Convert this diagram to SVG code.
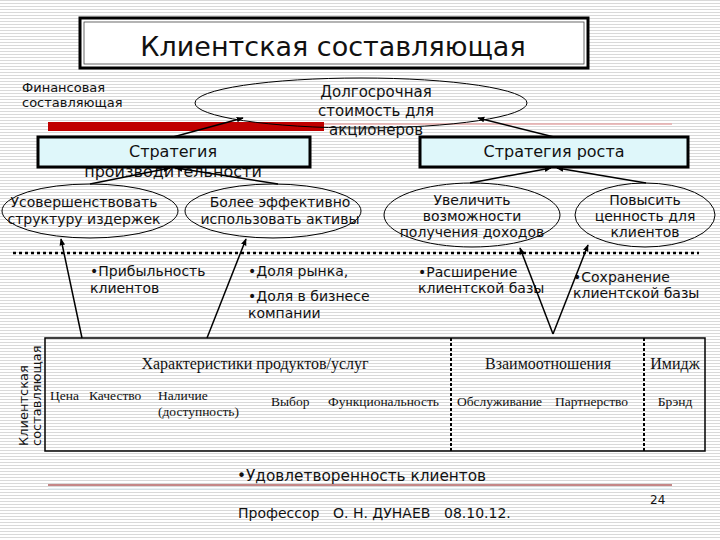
<svg xmlns="http://www.w3.org/2000/svg" width="720" height="540" viewBox="0 0 720 540">
<defs>
<pattern id="stripes" width="4" height="3" patternUnits="userSpaceOnUse">
<rect width="4" height="3" fill="#ffffff"/>
<rect width="4" height="1" fill="#d9d9d9"/>
</pattern>
<marker id="arr" viewBox="0 0 10 10" refX="9" refY="5" markerWidth="7" markerHeight="7" orient="auto" markerUnits="userSpaceOnUse">
<path d="M0,1 L10,5 L0,9 z" fill="#000"/>
</marker>
<style>
.sans{font-family:"DejaVu Sans","Noto Sans",sans-serif;fill:#111}
.serif{font-family:"Liberation Serif","DejaVu Serif",serif;fill:#111}
.oval{fill:none;stroke:#000;stroke-width:1}
.sbox{fill:#dff7fa;stroke:#000;stroke-width:3}
.conn line{stroke:#000;stroke-width:1.5;marker-end:url(#arr)}
</style>
</defs>
<rect width="720" height="540" fill="url(#stripes)"/>

<g id="title">
<rect x="80" y="18" width="508" height="50" fill="#fff" stroke="#000" stroke-width="3"/>
<rect x="84" y="22" width="500" height="42" fill="none" stroke="#444" stroke-width="0.8"/>
<text class="sans" x="333" y="56" font-size="27" text-anchor="middle">Клиентская составляющая</text>
</g>

<g id="fin-label">
<text class="sans" x="22" y="92" font-size="13">Финансовая</text>
<text class="sans" x="22" y="107" font-size="13">составляющая</text>
</g>

<g id="redbar">
<rect x="48" y="122" width="276" height="9" fill="#c00000"/>
<line x1="324" y1="124" x2="672" y2="124" stroke="#e4a8a8" stroke-width="1.5"/>
</g>

<g id="value">
<ellipse class="oval" cx="361" cy="103" rx="166" ry="25"/>
<text class="sans" font-size="15" text-anchor="middle"><tspan x="376" y="97">Долгосрочная</tspan><tspan x="376" y="116">стоимость для</tspan><tspan x="376" y="135">акционеров</tspan></text>
</g>

<g id="strat-prod">
<rect class="sbox" x="38" y="137" width="272" height="30"/>
<text class="sans" font-size="16" text-anchor="middle"><tspan x="173" y="157">Стратегия</tspan><tspan x="173" y="177">производительности</tspan></text>
</g>

<g id="strat-growth">
<rect class="sbox" x="420" y="137" width="268" height="30"/>
<text class="sans" x="554" y="157" font-size="16" text-anchor="middle">Стратегия роста</text>
</g>

<g id="costs">
<ellipse class="oval" cx="90" cy="211" rx="88" ry="27"/>
<text class="sans" font-size="14" text-anchor="middle"><tspan x="84" y="207">Усовершенствовать</tspan><tspan x="84" y="224">структуру издержек</tspan></text>
</g>

<g id="assets">
<ellipse class="oval" cx="273" cy="211" rx="88" ry="27"/>
<text class="sans" font-size="14" text-anchor="middle"><tspan x="280" y="207">Более эффективно</tspan><tspan x="280" y="224">использовать активы</tspan></text>
</g>

<g id="revenue">
<ellipse class="oval" cx="472" cy="215" rx="88" ry="32"/>
<text class="sans" font-size="14" text-anchor="middle"><tspan x="472" y="205">Увеличить</tspan><tspan x="472" y="221">возможности</tspan><tspan x="472" y="237">получения доходов</tspan></text>
</g>

<g id="clientvalue">
<ellipse class="oval" cx="645" cy="215" rx="70" ry="32"/>
<text class="sans" font-size="14" text-anchor="middle"><tspan x="645" y="205">Повысить</tspan><tspan x="645" y="221">ценность для</tspan><tspan x="645" y="237">клиентов</tspan></text>
</g>

<g id="divider">
<line x1="13" y1="253" x2="699" y2="253" stroke="#000" stroke-width="2.5" stroke-dasharray="3 3"/>
</g>

<g id="metrics">
<text class="sans" font-size="14"><tspan x="90" y="276">•Прибыльность</tspan><tspan x="90" y="293">клиентов</tspan></text>
<text class="sans" font-size="14"><tspan x="248" y="276">•Доля рынка,</tspan></text>
<text class="sans" font-size="14"><tspan x="248" y="301">•Доля в бизнесе</tspan><tspan x="248" y="318">компании</tspan></text>
<text class="sans" font-size="14"><tspan x="418" y="277">•Расширение</tspan><tspan x="418" y="293">клиентской базы</tspan></text>
<text class="sans" font-size="14"><tspan x="573" y="282">•Сохранение</tspan><tspan x="573" y="298">клиентской базы</tspan></text>
</g>

<g id="client-label">
<text class="sans" font-size="13" transform="translate(28,446) rotate(-90)">Клиентская</text>
<text class="sans" font-size="13" transform="translate(41,446) rotate(-90)">составляющая</text>
</g>

<g id="table">
<rect x="45" y="338" width="660" height="113" fill="none" stroke="#000" stroke-width="1.5"/>
<line x1="451" y1="338" x2="451" y2="451" stroke="#000" stroke-width="2" stroke-dasharray="3 2"/>
<line x1="644" y1="338" x2="644" y2="451" stroke="#000" stroke-width="2" stroke-dasharray="3 2"/>
<text class="serif" x="255" y="369" font-size="16" text-anchor="middle">Характеристики продуктов/услуг</text>
<text class="serif" x="548" y="369" font-size="16" text-anchor="middle">Взаимоотношения</text>
<text class="serif" x="675" y="369" font-size="16" text-anchor="middle">Имидж</text>
<text class="serif" font-size="13.5"><tspan x="50" y="400">Цена</tspan><tspan x="89" y="400">Качество</tspan></text>
<text class="serif" font-size="13.5"><tspan x="158" y="400">Наличие</tspan><tspan x="158" y="416">(доступность)</tspan></text>
<text class="serif" font-size="13.5"><tspan x="271" y="406">Выбор</tspan><tspan x="328" y="406">Функциональность</tspan></text>
<text class="serif" font-size="13.5"><tspan x="457" y="406">Обслуживание</tspan><tspan x="555" y="406">Партнерство</tspan></text>
<text class="serif" x="675" y="406" font-size="13.5" text-anchor="middle">Брэнд</text>
</g>

<g id="connectors" class="conn">
<line x1="173" y1="137" x2="243" y2="118"/>
<line x1="554" y1="137" x2="478" y2="118"/>
<line x1="90" y1="184" x2="170" y2="168"/>
<line x1="278" y1="184" x2="176" y2="168"/>
<line x1="470" y1="183" x2="551" y2="168"/>
<line x1="646" y1="183" x2="557" y2="168"/>
<line x1="82" y1="338" x2="61" y2="239"/>
<line x1="207" y1="338" x2="246" y2="239"/>
<line x1="553" y1="334" x2="520" y2="248"/>
<line x1="553" y1="334" x2="588" y2="245"/>
</g>

<g id="footer">
<text class="sans" x="237" y="481" font-size="15.3">•Удовлетворенность клиентов</text>
<line x1="48" y1="485" x2="672" y2="485" stroke="#8b1010" stroke-width="1"/>
<line x1="48" y1="489" x2="672" y2="489" stroke="#cfe6ee" stroke-width="1"/>
<text class="sans" font-size="14"><tspan x="238" y="518">Профессор</tspan><tspan x="333" y="518">О. Н. ДУНАЕВ</tspan><tspan x="444" y="518">08.10.12.</tspan></text>
<text class="sans" x="650" y="504" font-size="12">24</text>
</g>
</svg>
